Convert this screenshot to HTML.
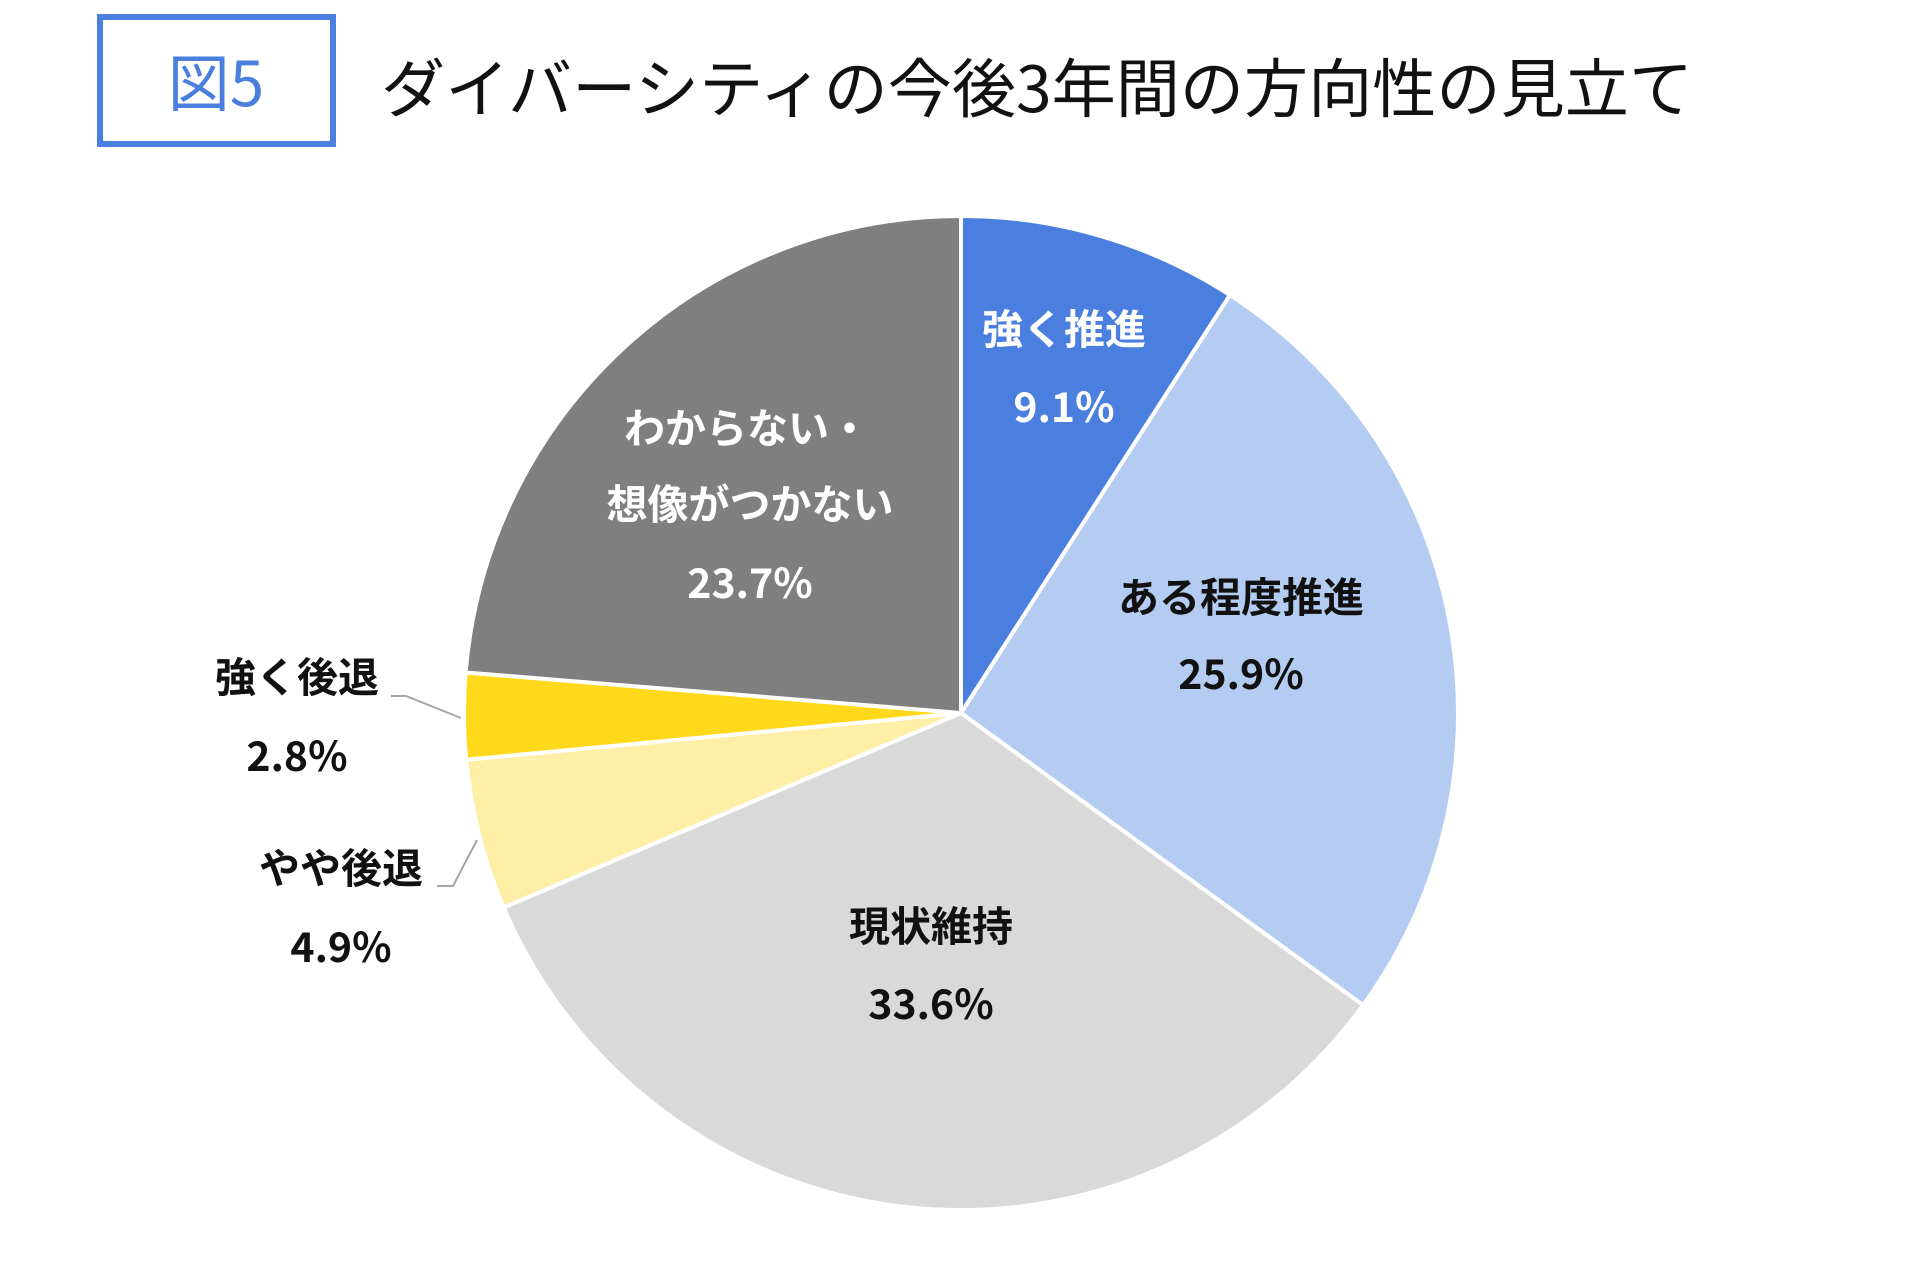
<!DOCTYPE html>
<html><head><meta charset="utf-8"><style>
html,body{margin:0;padding:0;background:#fff;}
svg{display:block;}
text{font-family:"Noto Sans CJK JP","Liberation Sans",sans-serif;}
</style></head><body>
<svg id="s" width="1918" height="1261" viewBox="0 0 1918 1261">
<rect x="100" y="17" width="233" height="127" fill="none" stroke="#4A7FE0" stroke-width="6"/>
<text x="216" y="106" font-size="62" fill="#4A7FE0" text-anchor="middle">図5</text>
<text x="381" y="112" font-size="64" fill="#111" textLength="1312" lengthAdjust="spacingAndGlyphs">ダイバーシティの今後3年間の方向性の見立て</text>
<g id="pie"></g>
<polyline points="391,696 406,696 461,718" fill="none" stroke="#A6A6A6" stroke-width="2"/>
<polyline points="437,886 453,886 477,840" fill="none" stroke="#A6A6A6" stroke-width="2"/>
<g font-weight="bold" font-size="41" text-anchor="middle">
<text x="1064" y="344" fill="#fff">強く推進</text>
<text x="1064" y="422" fill="#fff">9.1%</text>
<text x="1241" y="612" fill="#111">ある程度推進</text>
<text x="1241" y="689" fill="#111">25.9%</text>
<text x="747" y="443" fill="#fff">わからない・</text>
<text x="750" y="519" fill="#fff">想像がつかない</text>
<text x="750" y="598" fill="#fff">23.7%</text>
<text x="931" y="941" fill="#111">現状維持</text>
<text x="931" y="1019" fill="#111">33.6%</text>
<text x="297" y="692" fill="#111">強く後退</text>
<text x="297" y="771" fill="#111">2.8%</text>
<text x="341" y="883" fill="#111">やや後退</text>
<text x="341" y="962" fill="#111">4.9%</text>
</g>
</svg>
<script>
(function(){
var cx=961,cy=713,r=497;
var d=[[9.1,"#4A7FE0"],[25.9,"#B4CBF2"],[33.6,"#D9D9D9"],[4.9,"#FFEFA6"],[2.8,"#FFD91A"],[23.7,"#7F7F7F"]];
var a=0,g=document.getElementById("pie"),h="";
d.forEach(function(s){
 var a1=a+s[0]/100*2*Math.PI;
 var x0=cx+r*Math.sin(a),y0=cy-r*Math.cos(a),x1=cx+r*Math.sin(a1),y1=cy-r*Math.cos(a1);
 var lg=(a1-a)>Math.PI?1:0;
 h+='<path d="M'+cx+','+cy+' L'+x0.toFixed(2)+','+y0.toFixed(2)+' A'+r+','+r+' 0 '+lg+' 1 '+x1.toFixed(2)+','+y1.toFixed(2)+' Z" fill="'+s[1]+'" stroke="#fff" stroke-width="4" stroke-linejoin="round"/>';
 a=a1;
});
g.innerHTML=h;
})();
</script>
</body></html>
